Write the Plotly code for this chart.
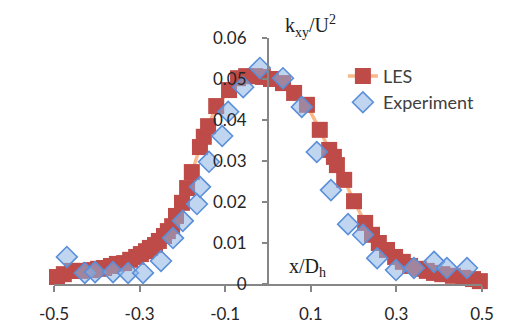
import plotly.graph_objects as go

# LES profile of k_xy/U^2 across the duct (x/D_h)
les_x = [-0.505, -0.493, -0.477, -0.458, -0.439, -0.414, -0.397, -0.383, -0.367, -0.353,
         -0.336, -0.322, -0.308, -0.297, -0.285, -0.276, -0.264, -0.255, -0.243, -0.234,
         -0.224, -0.215, -0.201, -0.189, -0.178, -0.159, -0.150, -0.140, -0.121, -0.091,
         -0.070, -0.051, -0.030, -0.012, 0.007, 0.035, 0.061, 0.091, 0.121, 0.143,
         0.154, 0.161, 0.178, 0.201, 0.227, 0.243, 0.259, 0.278, 0.297, 0.315,
         0.332, 0.353, 0.371, 0.388, 0.407, 0.432, 0.456, 0.479, 0.495, 0.505]
les_y = [0.0005, 0.0017, 0.0024, 0.0032, 0.0032, 0.0034, 0.0037, 0.0039, 0.0044, 0.0049,
         0.0051, 0.0059, 0.0066, 0.0073, 0.0080, 0.0088, 0.0095, 0.0105, 0.0117, 0.0129,
         0.0141, 0.0166, 0.0198, 0.0234, 0.0273, 0.0334, 0.0359, 0.0385, 0.0434, 0.0473,
         0.0502, 0.0507, 0.0507, 0.0505, 0.0500, 0.0490, 0.0466, 0.0437, 0.0376, 0.0327,
         0.0310, 0.0290, 0.0254, 0.0202, 0.0149, 0.0120, 0.0100, 0.0083, 0.0066, 0.0054,
         0.0044, 0.0037, 0.0032, 0.0027, 0.0024, 0.0020, 0.0015, 0.0012, 0.0007, 0.0000]

# Measured values
exp_x = [-0.470, -0.428, -0.404, -0.362, -0.327, -0.292, -0.250, -0.222, -0.199, -0.166,
         -0.159, -0.138, -0.107, -0.093, -0.058, -0.019, 0.035, 0.079, 0.114, 0.147,
         0.187, 0.222, 0.255, 0.299, 0.341, 0.388, 0.418, 0.465]
exp_y = [0.0066, 0.0027, 0.0029, 0.0029, 0.0027, 0.0027, 0.0056, 0.0112, 0.0154, 0.0195,
         0.0237, 0.0298, 0.0361, 0.0420, 0.0480, 0.0527, 0.0502, 0.0432, 0.0322, 0.0229,
         0.0146, 0.0120, 0.0063, 0.0034, 0.0039, 0.0054, 0.0039, 0.0039]

x_ticks = [-0.5, -0.3, -0.1, 0.1, 0.3, 0.5]
x_tick_labels = ["-0.5", "-0.3", "-0.1", "0.1", "0.3", "0.5"]
y_ticks = [0, 0.01, 0.02, 0.03, 0.04, 0.05, 0.06]
y_tick_labels = ["0", "0.01", "0.02", "0.03", "0.04", "0.05", "0.06"]

AXIS_GREY = "#868686"
TEXT = "#262626"
FONT = "Lato"

fig = go.Figure()
fig.add_trace(go.Scatter(
    x=les_x, y=les_y, name="LES", mode="lines+markers",
    line=dict(color="#F8B98B", width=3.5),
    marker=dict(symbol="square", size=16, color="#BE4B48",
                line=dict(color="#BE4B48", width=0)),
    cliponaxis=False,
))
fig.add_trace(go.Scatter(
    x=exp_x, y=exp_y, name="Experiment", mode="markers",
    marker=dict(symbol="diamond", size=16, color="rgba(140,180,228,0.55)",
                line=dict(color="#5A8FDA", width=1.6)),
    cliponaxis=False,
))

fig.update_layout(
    width=523, height=324,
    margin=dict(l=54, r=41, t=38, b=40),
    paper_bgcolor="white", plot_bgcolor="white",
    font=dict(family=FONT, size=17, color=TEXT),
    showlegend=True,
    legend=dict(x=0.675, y=0.92, xanchor="left", yanchor="top",
                bgcolor="rgba(0,0,0,0)", font=dict(family=FONT, size=18, color="#404040"),
                tracegroupgap=2),
    xaxis=dict(range=[-0.5, 0.5], domain=[0, 1], showgrid=False, zeroline=False,
               showline=True, linecolor=AXIS_GREY, linewidth=2,
               ticks="outside", ticklen=6, tickcolor=AXIS_GREY, tickwidth=1.5,
               tickvals=x_ticks, ticktext=x_tick_labels, ticklabelstandoff=8,
               tickfont=dict(family=FONT, size=17, color=TEXT),
               anchor="y", automargin=False),
    yaxis=dict(range=[0, 0.06], showgrid=False, zeroline=False,
               showline=True, linecolor=AXIS_GREY, linewidth=2,
               ticks="outside", ticklen=5, tickcolor=AXIS_GREY, tickwidth=1.5,
               tickvals=y_ticks, ticktext=y_tick_labels, ticklabelstandoff=12,
               tickfont=dict(family=FONT, size=17, color=TEXT),
               anchor="free", position=0.5, side="left", automargin=False),
)

fig.add_annotation(text="k<sub>xy</sub>/U<sup>2</sup>", xref="paper", yref="paper",
                   x=0.536, y=0.982, xanchor="left", yanchor="bottom", showarrow=False,
                   font=dict(family="Liberation Serif", size=20, color="#202020"))
fig.add_annotation(text="x/D<sub>h</sub>", xref="paper", yref="paper",
                   x=0.545, y=0.008, xanchor="left", yanchor="bottom", showarrow=False,
                   font=dict(family="Liberation Serif", size=20, color="#202020"))

fig.write_html("out.html")
